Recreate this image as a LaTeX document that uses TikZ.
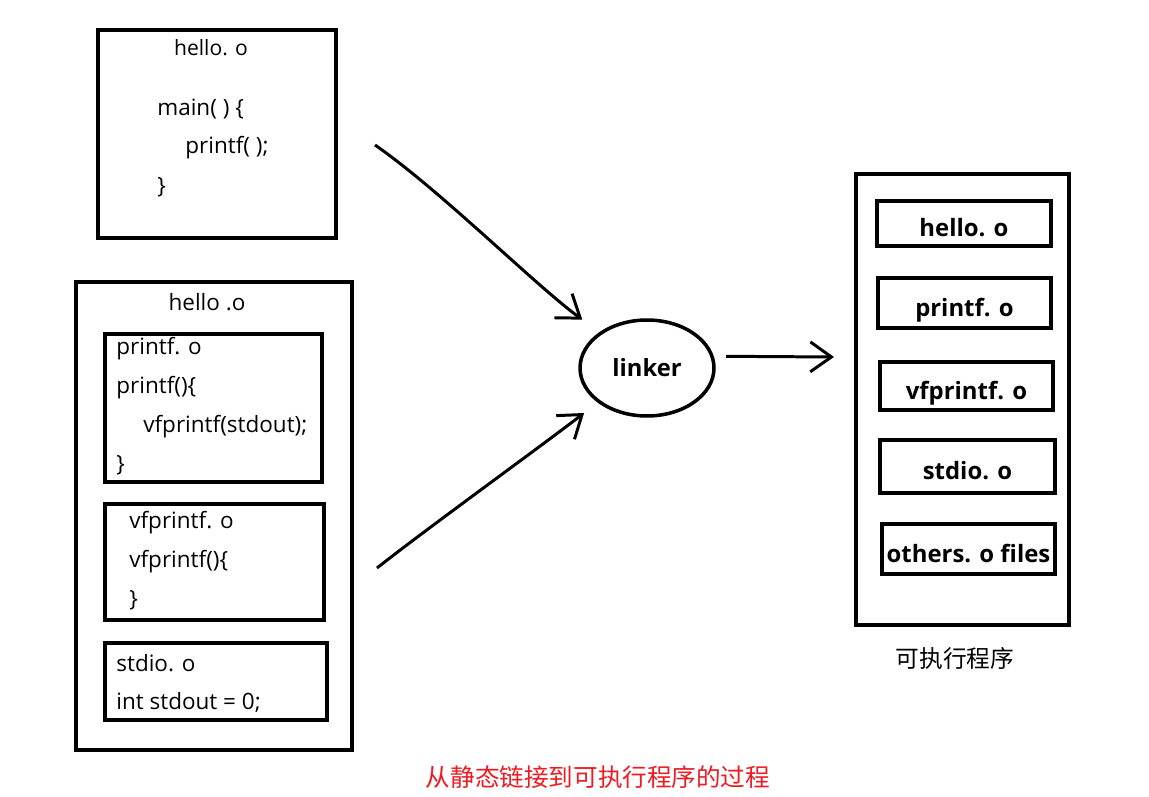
\documentclass[tikz,border=0pt]{standalone}
\usepackage{fontspec}
\setmainfont{Open Sans}
\newfontfamily\cjk{Noto Sans CJK SC}
\usetikzlibrary{positioning,arrows.meta,shapes.geometric}
\definecolor{capred}{RGB}{236,28,36}

\begin{document}
\begin{tikzpicture}[x=0.02cm,y=-0.02cm,
  filebox/.style={draw=black, line width=2.3pt, inner sep=0pt},
  objbox/.style={draw=black, line width=2.3pt, inner sep=0pt, text height=15pt, text depth=0pt, font=\fontsize{13.6}{16}\selectfont\bfseries},
  codeline/.style={anchor=west, inner sep=0pt, font=\fontsize{12.8}{15}\selectfont},
  roundnode/.style={ellipse, draw=black, line width=2pt, inner sep=0pt, font=\fontsize{13.5}{16}\selectfont\bfseries},
  handarrow/.style={line width=1.7pt, -{Straight Barb[length=12pt,width=17pt]}}]
  \useasboundingbox (0,0) rectangle (1149,797);

  % source file
  \node[filebox, minimum width=4.76cm, minimum height=4.16cm] (srcFile) at (217,134) {};
  \node[codeline, anchor=center, font=\fontsize{12}{14}\selectfont] (srcName) at (211,48) {hello. o};
  \node[codeline] (srcMain) at (157,109) {main( ) \{};
  \node[codeline] (srcCall) at (185,148) {printf( );};
  \node[codeline] (srcEnd) at (157,187) {\}};

  % library objects
  \node[filebox, minimum width=5.52cm, minimum height=9.36cm] (libFile) at (214,516) {};
  \node[codeline, anchor=center] (libName) at (207,302) {hello .o};
  \node[filebox, minimum width=4.34cm, minimum height=2.96cm] (printfBox) at (213.5,408) {};
  \node[codeline] (printfName) at (116,349) {printf. o};
  \node[codeline] (printfHead) at (116,388) {printf()\{};
  \node[codeline] (printfCall) at (143,427) {vfprintf(stdout);};
  \node[codeline] (printfEnd) at (116,465) {\}};
  \node[filebox, minimum width=4.38cm, minimum height=2.32cm] (vfBox) at (214.5,562) {};
  \node[codeline] (vfName) at (129,523) {vfprintf. o};
  \node[codeline] (vfHead) at (129,562) {vfprintf()\{};
  \node[codeline] (vfEnd) at (129,600) {\}};
  \node[filebox, minimum width=4.44cm, minimum height=1.54cm] (stdioBox) at (216,681.5) {};
  \node[codeline] (stdioName) at (116,663) {stdio. o};
  \node[codeline] (stdioVar) at (116,702) {int stdout = 0;};

  % linker
  \node[roundnode, minimum width=2.68cm, minimum height=1.92cm] (linker) at (647,368) {linker};

  % executable
  \node[filebox, minimum width=4.26cm, minimum height=9.02cm] (exeFile) at (962.5,399.5) {};
  \node[objbox, minimum width=3.48cm, minimum height=0.9cm] (exeHello) at (964,223.5) {hello. o\hspace{10pt}};
  \node[objbox, minimum width=3.46cm, minimum height=1.0cm] (exePrintf) at (964.5,303) {printf. o};
  \node[objbox, minimum width=3.46cm, minimum height=0.96cm] (exeVf) at (966.5,386) {vfprintf. o};
  \node[objbox, minimum width=3.5cm, minimum height=1.06cm] (exeStdio) at (967.5,466.5) {stdio. o};
  \node[objbox, minimum width=3.46cm, minimum height=1.0cm] (exeOthers) at (968.5,549) {others. o files};
  \node[font=\cjk\fontsize{13.5}{16}\selectfont] (exeName) at (955,658) {可执行程序};

  \node[font=\cjk\fontsize{14}{16}\selectfont, text=capred] (caption) at (598,777) {从静态链接到可执行程序的过程};

  \coordinate (srcOut) at (375,145);
  \coordinate (libOut) at (377,568);
  \coordinate (exeIn) at (834,357);

  \draw[handarrow, shorten >=12pt] (srcOut) .. controls (440,190) and (535,285) .. (linker.143);
  \draw[handarrow, shorten >=9.7pt] (libOut) .. controls (425,530) and (540,447) .. (linker.215);
  \draw[handarrow, shorten <=7pt] (linker.10) -- (exeIn);
\end{tikzpicture}
\end{document}
